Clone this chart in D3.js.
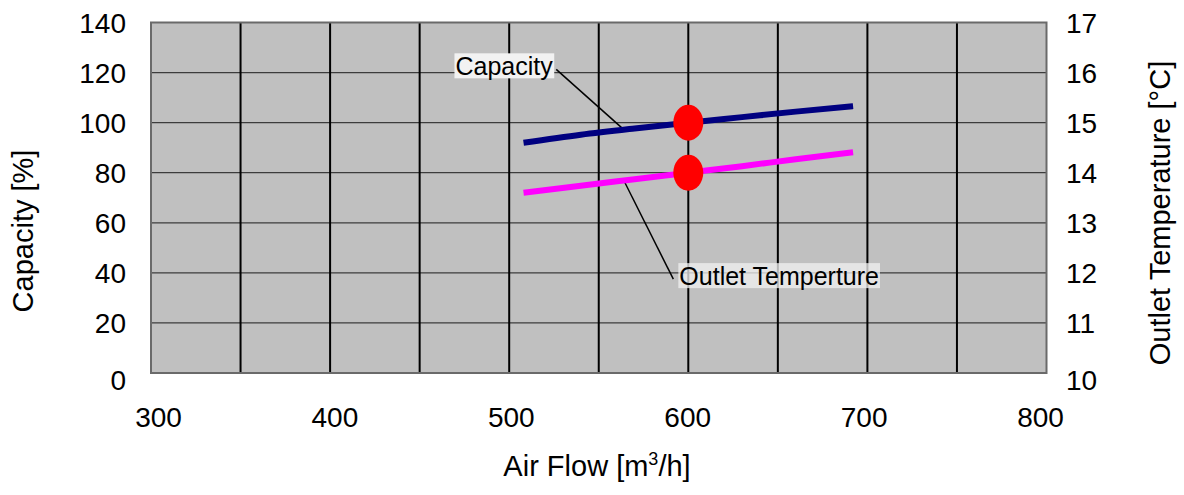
<!DOCTYPE html>
<html>
<head>
<meta charset="utf-8">
<script src="https://cdn.jsdelivr.net/npm/d3@7"></script>
<style>
  html, body { margin: 0; padding: 0; background: #fff; }
  svg { display: block; font-family: "Liberation Sans", Arial, sans-serif; }
</style>
</head>
<body>
<svg id="chart" width="1184" height="495"></svg>
<script>
// ---- data ----
const airFlow = [508, 540, 570, 600, 630, 660, 692];
const capacity = [92.0, 95.2, 97.7, 100.0, 102.2, 104.4, 106.6];
const outletTemp = [13.60, 13.74, 13.87, 14.0, 14.13, 14.27, 14.41];
const xTicks = [300, 400, 500, 600, 700, 800];
const yLeftTicks = [0, 20, 40, 60, 80, 100, 120, 140];
const yRightTicks = [10, 11, 12, 13, 14, 15, 16, 17];
const xGrid = [350, 400, 450, 500, 550, 600, 650, 700, 750];
const ratedFlow = 600;
const ratedCapacity = 100;
const ratedTemp = 14.0;
const capLabel = { text: "Capacity", at: 564, lx: 470, ly: 118.9 };
const tempLabel = { text: "Outlet Temperture", at: 564, lx: 595, ly: 11.755 };

// ---- layout ----
const svg = d3.select("#chart");
const L = 151, R = 1046.5, T = 22.5, B = 373;

const x = d3.scaleLinear().domain([300, 800]).range([L, R]);
const xLab = d3.scaleLinear().domain([300, 800]).range([158, 1040]);
const yL = d3.scaleLinear().domain([0, 140]).range([B, T]);
const yR = d3.scaleLinear().domain([10, 17]).range([B, T]);

// plot background
svg.append("rect").attr("x", L).attr("y", T).attr("width", R - L).attr("height", B - T)
  .attr("fill", "#c0c0c0");

// horizontal grid
svg.append("g").selectAll("line").data(yLeftTicks.slice(1, -1)).join("line")
  .attr("x1", L).attr("x2", R).attr("y1", d => yL(d)).attr("y2", d => yL(d))
  .attr("stroke", "#3c3c3c").attr("stroke-width", 1.2);
// vertical grid
svg.append("g").selectAll("line").data(xGrid).join("line")
  .attr("x1", d => x(d)).attr("x2", d => x(d)).attr("y1", T).attr("y2", B)
  .attr("stroke", "#000").attr("stroke-width", 2);

// border
svg.append("rect").attr("x", L).attr("y", T).attr("width", R - L).attr("height", B - T)
  .attr("fill", "none").attr("stroke", "#6a6a6a").attr("stroke-width", 2);

// axes
const fs = 28;
const axB = svg.append("g").attr("transform", `translate(0,${B + 47})`)
  .call(d3.axisBottom(xLab).tickValues(xTicks).tickSize(0).tickPadding(0).tickFormat(d3.format("d")));
axB.select(".domain").remove();
axB.selectAll("text").attr("font-size", fs).attr("font-family", "Liberation Sans, Arial, sans-serif")
  .attr("fill", "#000").attr("dy", "0").attr("y", 0).attr("dominant-baseline", "middle");

const axL = svg.append("g").attr("transform", `translate(126,0)`)
  .call(d3.axisLeft(yL).tickValues(yLeftTicks).tickSize(0).tickPadding(0).tickFormat(d3.format("d")));
axL.select(".domain").remove();
axL.selectAll("text").attr("font-size", fs).attr("font-family", "Liberation Sans, Arial, sans-serif")
  .attr("fill", "#000").attr("dy", d => d === 0 ? "0.6em" : "0.35em");

const axR = svg.append("g").attr("transform", `translate(1066,0)`)
  .call(d3.axisRight(yR).tickValues(yRightTicks).tickSize(0).tickPadding(0).tickFormat(d3.format("d")));
axR.select(".domain").remove();
axR.selectAll("text").attr("font-size", fs).attr("font-family", "Liberation Sans, Arial, sans-serif")
  .attr("fill", "#000").attr("dy", d => d === 10 ? "0.6em" : "0.35em");

// axis titles
const tfs = 29;
const xt = svg.append("text").attr("x", 597).attr("y", 476).attr("text-anchor", "middle")
  .attr("font-size", tfs).attr("fill", "#000");
xt.append("tspan").text("Air Flow [m");
xt.append("tspan").attr("font-size", 18).attr("dy", -11).text("3");
xt.append("tspan").attr("dy", 11).text("/h]");

svg.append("text").attr("transform", "translate(33,231) rotate(-90)").attr("text-anchor", "middle")
  .attr("font-size", tfs).attr("fill", "#000").text("Capacity [%]");
svg.append("text").attr("transform", "translate(1170,213) rotate(-90)").attr("text-anchor", "middle")
  .attr("font-size", tfs).attr("fill", "#000").text("Outlet Temperature [°C]");

// curves
const capPts = airFlow.map((f, i) => [f, capacity[i]]);
const tmpPts = airFlow.map((f, i) => [f, outletTemp[i]]);
const lineCap = d3.line().x(d => x(d[0])).y(d => yL(d[1])).curve(d3.curveMonotoneX);
const lineTmp = d3.line().x(d => x(d[0])).y(d => yR(d[1])).curve(d3.curveMonotoneX);

const interp = (pts, v) => {
  const xs = pts.map(p => p[0]);
  const i = Math.max(1, Math.min(xs.length - 1, d3.bisectLeft(xs, v)));
  const a = pts[i - 1], b = pts[i];
  return a[1] + (b[1] - a[1]) * (v - a[0]) / (b[0] - a[0]);
};

// annotations (leaders first)
const annFs = 25;
function addLabel(lbl, yScale, opaque) {
  const t = svg.append("text").attr("x", x(lbl.lx)).attr("y", yScale(lbl.ly))
    .attr("font-size", annFs).attr("fill", "#000").text(lbl.text);
  const bb = t.node().getBBox();
  svg.insert("rect", () => t.node())
    .attr("x", bb.x - 1).attr("y", bb.y + 1).attr("width", bb.width + 2).attr("height", bb.height - 3)
    .attr("fill", "#f2f2f2").attr("fill-opacity", opaque ? 1 : 0.75);
  return bb;
}

const capY = interp(capPts, capLabel.at);
const tmpY = interp(tmpPts, tempLabel.at);

const bbC = addLabel(capLabel, yL, true);
svg.append("line").attr("x1", bbC.x + bbC.width + 3).attr("y1", yL(capLabel.ly) - 6)
  .attr("x2", x(capLabel.at)).attr("y2", yL(capY))
  .attr("stroke", "#000").attr("stroke-width", 1.5);

svg.append("line").attr("x1", x(tempLabel.at)).attr("y1", yR(tmpY))
  .attr("x2", x(tempLabel.lx) - 6).attr("y2", yR(tempLabel.ly) - 6)
  .attr("stroke", "#000").attr("stroke-width", 1.5);
addLabel(tempLabel, yR, false);

svg.append("path").datum(capPts).attr("d", lineCap).attr("fill", "none")
  .attr("stroke", "#000080").attr("stroke-width", 6);
svg.append("path").datum(tmpPts).attr("d", lineTmp).attr("fill", "none")
  .attr("stroke", "#ff00ff").attr("stroke-width", 6);

// rated points
svg.append("ellipse").attr("cx", x(ratedFlow)).attr("cy", yL(ratedCapacity)).attr("rx", 15).attr("ry", 18)
  .attr("fill", "#ff0000");
svg.append("ellipse").attr("cx", x(ratedFlow)).attr("cy", yR(ratedTemp)).attr("rx", 15).attr("ry", 18)
  .attr("fill", "#ff0000");
</script>
</body>
</html>
